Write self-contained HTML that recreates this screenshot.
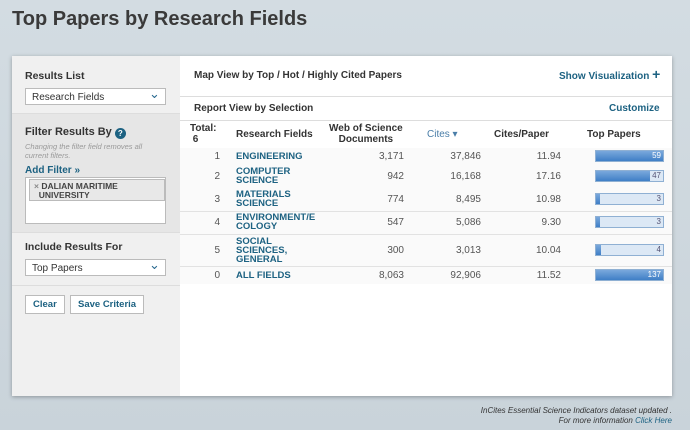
<!DOCTYPE html>
<html><head><style>
*{margin:0;padding:0;box-sizing:border-box}
body{width:690px;height:430px;overflow:hidden;background:linear-gradient(#d3dce2,#c9d3da);font-family:"Liberation Sans",sans-serif;position:relative;color:#333}
.a{position:absolute;white-space:nowrap}
h1{position:absolute;left:12px;top:8px;font-size:20px;font-weight:bold;color:#3a3a3a}
.card{position:absolute;left:12px;top:56px;width:660px;height:340px;background:#fff;box-shadow:0 1px 4px rgba(0,0,0,.3)}
.b{font-weight:bold;font-size:10px;color:#333}
.lnk{color:#1d6282;font-weight:bold;font-size:10px}
.sel{position:absolute;background:#fff;border:1px solid #bbb;font-size:10px;padding:3px 6px;color:#333}
.sel::after{content:"⌄";position:absolute;right:2px;top:-3px;width:14px;height:14px;color:#2a6a90;font-size:13px}
.btn{position:absolute;background:#fff;border:1px solid #bbb;font-size:9.5px;font-weight:bold;color:#1d6282;padding:3px 7px}
.n{font-size:10px;color:#555;text-align:right;width:60px}
.f{font-size:9.5px;font-weight:bold;color:#1d6282;line-height:9px}
.bar{position:absolute;left:595px;width:69px;height:12px;background:#dce8f5;border:1px solid #8fb0d3;font-size:8px;color:#fff;text-align:right;padding-right:2px;line-height:10px}
.bar i{position:absolute;left:0;top:0;bottom:0;background:linear-gradient(#7aa8dc,#3f7fc6)}
.bar span{position:relative}
</style></head><body>
<h1>Top Papers by Research Fields</h1>
<div class="card"></div>
<div class="a" style="left:12px;top:56px;width:168px;height:340px;background:#f0f0f0"></div>
<div class="a" style="left:12px;top:113px;width:168px;height:120px;background:#e6e6e6;border-top:1px solid #ddd;border-bottom:1px solid #ddd"></div>
<div class="a" style="left:12px;top:285px;width:168px;height:1px;background:#ddd"></div>
<div class="a b" style="left:25px;top:70px;font-size:10.5px">Results List</div>
<div class="sel" style="left:25px;top:88px;width:141px;height:17px">Research Fields</div>
<div class="a b" style="left:25px;top:126px;font-size:11px">Filter Results By <span style="display:inline-block;width:11px;height:11px;border-radius:50%;background:#1d6282;color:#fff;font-size:8px;text-align:center;line-height:11px;vertical-align:-1px">?</span></div>
<div class="a" style="left:25px;top:142px;font-size:7.5px;font-style:italic;color:#999;line-height:9px">Changing the filter field removes all<br>current filters.</div>
<div class="a lnk" style="left:25px;top:165px">Add Filter »</div>
<div class="a" style="left:25px;top:177px;width:141px;height:47px;background:#fff;border:1px solid #bbb"></div>
<div class="a" style="left:29px;top:179px;width:136px;height:22px;background:#e8e8e8;border:1px solid #bbb;font-size:8.5px;font-weight:bold;color:#444;padding:2px 4px;line-height:9px"><span style="color:#888">×</span> DALIAN MARITIME<br>&nbsp;&nbsp;UNIVERSITY</div>
<div class="a b" style="left:25px;top:241px;font-size:10.5px">Include Results For</div>
<div class="sel" style="left:25px;top:259px;width:141px;height:17px">Top Papers</div>
<div class="btn" style="left:25px;top:295px">Clear</div>
<div class="btn" style="left:70px;top:295px">Save Criteria</div>

<div class="a b" style="left:194px;top:70px">Map View by Top / Hot / Highly Cited Papers</div>
<div class="a lnk" style="left:559px;top:69px">Show Visualization <span style="font-size:14px;line-height:10px">+</span></div>
<div class="a" style="left:180px;top:96px;width:492px;height:1px;background:#ddd"></div>
<div class="a b" style="left:194px;top:103px">Report View by Selection</div>
<div class="a lnk" style="left:609px;top:103px">Customize</div>
<div class="a" style="left:180px;top:120px;width:492px;height:1px;background:#ddd"></div>
<div class="a b" style="left:190px;top:123px;line-height:11px">Total:<br>&nbsp;6</div>
<div class="a b" style="left:236px;top:129px">Research Fields</div>
<div class="a b" style="left:329px;top:123px;line-height:11px;text-align:center">Web of Science<br>Documents</div>
<div class="a" style="left:427px;top:129px;font-size:10px;color:#4a7ea8">Cites ▾</div>
<div class="a b" style="left:494px;top:129px">Cites/Paper</div>
<div class="a b" style="left:587px;top:129px">Top Papers</div>

<div class="a" style="left:180px;top:148px;width:492px;height:136px;background:#fafafa"></div>
<div class="a" style="left:180px;top:211px;width:492px;height:1px;background:#e2e2e2"></div>
<div class="a" style="left:180px;top:234px;width:492px;height:1px;background:#e2e2e2"></div>
<div class="a" style="left:180px;top:266px;width:492px;height:1px;background:#e2e2e2"></div>

<!-- rows -->
<div class="a n" style="left:160px;top:151px">1</div><div class="a f" style="left:236px;top:152px">ENGINEERING</div>
<div class="a n" style="left:344px;top:151px">3,171</div><div class="a n" style="left:421px;top:151px">37,846</div><div class="a n" style="left:501px;top:151px">11.94</div>
<div class="bar" style="top:150px"><i style="width:100%"></i><span>59</span></div>

<div class="a n" style="left:160px;top:171px">2</div><div class="a f" style="left:236px;top:167px">COMPUTER<br>SCIENCE</div>
<div class="a n" style="left:344px;top:171px">942</div><div class="a n" style="left:421px;top:171px">16,168</div><div class="a n" style="left:501px;top:171px">17.16</div>
<div class="bar" style="top:170px;color:#557"><i style="width:80%"></i><span>47</span></div>

<div class="a n" style="left:160px;top:194px">3</div><div class="a f" style="left:236px;top:190px">MATERIALS<br>SCIENCE</div>
<div class="a n" style="left:344px;top:194px">774</div><div class="a n" style="left:421px;top:194px">8,495</div><div class="a n" style="left:501px;top:194px">10.98</div>
<div class="bar" style="top:193px;color:#557"><i style="width:4px"></i><span>3</span></div>

<div class="a n" style="left:160px;top:217px">4</div><div class="a f" style="left:236px;top:213px">ENVIRONMENT/E<br>COLOGY</div>
<div class="a n" style="left:344px;top:217px">547</div><div class="a n" style="left:421px;top:217px">5,086</div><div class="a n" style="left:501px;top:217px">9.30</div>
<div class="bar" style="top:216px;color:#557"><i style="width:4px"></i><span>3</span></div>

<div class="a n" style="left:160px;top:245px">5</div><div class="a f" style="left:236px;top:237px">SOCIAL<br>SCIENCES,<br>GENERAL</div>
<div class="a n" style="left:344px;top:245px">300</div><div class="a n" style="left:421px;top:245px">3,013</div><div class="a n" style="left:501px;top:245px">10.04</div>
<div class="bar" style="top:244px;color:#557"><i style="width:5px"></i><span>4</span></div>

<div class="a n" style="left:160px;top:270px">0</div><div class="a f" style="left:236px;top:271px">ALL FIELDS</div>
<div class="a n" style="left:344px;top:270px">8,063</div><div class="a n" style="left:421px;top:270px">92,906</div><div class="a n" style="left:501px;top:270px">11.52</div>
<div class="bar" style="top:269px"><i style="width:100%"></i><span>137</span></div>

<div class="a" style="right:18px;top:406px;font-size:8px;font-style:italic;color:#333;text-align:right;line-height:10px">InCites Essential Science Indicators dataset updated .<br>For more information <span style="color:#1d6282">Click Here</span></div>
</body></html>
